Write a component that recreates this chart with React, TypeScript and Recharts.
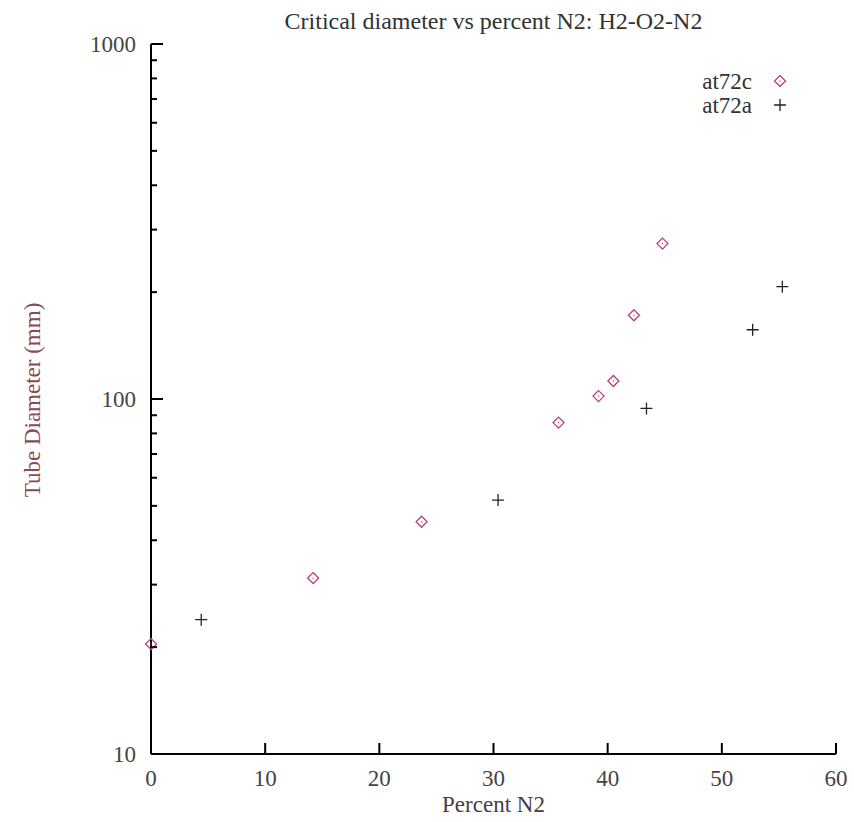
import { ScatterChart, Scatter, XAxis, YAxis, Legend } from 'recharts';

// at72c series (diamonds)
const at72cPercent = [0, 14.2, 23.7, 35.7, 39.2, 40.5, 42.3, 44.8];
const at72cDiameter = [20.4, 31.3, 45.1, 85.8, 101.9, 112.4, 172.2, 274];

// at72a series (crosses)
const at72aPercent = [4.4, 30.4, 43.4, 52.7, 55.3];
const at72aDiameter = [23.9, 51.9, 94.1, 156.7, 207.2];

const xTicks = [0, 10, 20, 30, 40, 50, 60];
const yTicks = [
  10, 20, 30, 40, 50, 60, 70, 80, 90,
  100, 200, 300, 400, 500, 600, 700, 800, 900,
  1000,
];
const yLabelled = [10, 100, 1000];

const at72c = at72cPercent.map((x, i) => ({ x, y: at72cDiameter[i] }));
const at72a = at72aPercent.map((x, i) => ({ x, y: at72aDiameter[i] }));

const W = 854;
const H = 822;
const PLOT_LEFT = 151;
const PLOT_RIGHT = 836;
const PLOT_TOP = 44;
const PLOT_BOTTOM = 754;

const FONT = '"Liberation Serif", "Times New Roman", serif';
const DIAMOND = '#b8407e';
const CROSS = '#222';

const Diamond = ({ cx, cy }: any) => (
  <g>
    <path
      d={`M${cx} ${cy - 5.5}L${cx + 5.5} ${cy}L${cx} ${cy + 5.5}L${cx - 5.5} ${cy}Z`}
      fill="none"
      stroke={DIAMOND}
      strokeWidth={1.3}
    />
    <rect x={cx - 0.6} y={cy - 0.6} width={1.2} height={1.2} fill={DIAMOND} />
  </g>
);

const Cross = ({ cx, cy }: any) => (
  <path
    d={`M${cx - 6} ${cy}H${cx + 6}M${cx} ${cy - 6}V${cy + 6}`}
    stroke={CROSS}
    strokeWidth={1.3}
  />
);

const isMajor = (v: number) => yLabelled.includes(v);

const LeftTick = ({ y, payload }: any) => {
  const major = isMajor(payload.value);
  return (
    <g>
      <line x1={PLOT_LEFT} x2={PLOT_LEFT + (major ? 12 : 6)} y1={y} y2={y} stroke="#000" strokeWidth={2} />
      {major && (
        <text x={PLOT_LEFT - 15} y={y + 8} textAnchor="end" fontFamily={FONT} fontSize={23} fill="#444">
          {payload.value}
        </text>
      )}
    </g>
  );
};

const RightTick = ({ y, payload }: any) => {
  const major = isMajor(payload.value);
  return (
    <line x1={PLOT_RIGHT} x2={PLOT_RIGHT - (major ? 12 : 6)} y1={y} y2={y} stroke="#000" strokeWidth={2} />
  );
};

const BottomTick = ({ x, payload }: any) => (
  <g>
    <line x1={x} x2={x} y1={PLOT_BOTTOM} y2={PLOT_BOTTOM - 11} stroke="#000" strokeWidth={2} />
    <text x={x} y={PLOT_BOTTOM + 32} textAnchor="middle" fontFamily={FONT} fontSize={23} fill="#444">
      {payload.value}
    </text>
  </g>
);

const TopTick = ({ x }: any) => (
  <line x1={x} x2={x} y1={PLOT_TOP} y2={PLOT_TOP + 11} stroke="#000" strokeWidth={2} />
);

const legendItems = [
  { name: 'at72c', Marker: Diamond },
  { name: 'at72a', Marker: Cross },
];

const renderLegend = () => (
  <svg width={140} height={56}>
    {legendItems.map(({ name, Marker }, i) => (
      <g key={name}>
        <text x={92} y={20 + i * 24} textAnchor="end" fontFamily={FONT} fontSize={23} fill="#333">
          {name}
        </text>
        <Marker cx={120} cy={12 + i * 24} />
      </g>
    ))}
  </svg>
);

export default function App() {
  return (
    <div style={{ position: 'absolute', left: 0, top: 0, width: W, height: H, background: '#fff' }}>
      <div
        style={{
          position: 'absolute',
          top: 8,
          left: PLOT_LEFT,
          width: PLOT_RIGHT - PLOT_LEFT,
          textAlign: 'center',
          fontFamily: FONT,
          fontSize: 24,
          color: '#333',
          whiteSpace: 'nowrap',
        }}
      >
        Critical diameter vs percent N2: H2-O2-N2
      </div>
      <ScatterChart
        width={W}
        height={H}
        margin={{ top: PLOT_TOP, right: W - PLOT_RIGHT, bottom: 0, left: 0 }}
      >
        <XAxis
          dataKey="x"
          type="number"
          domain={[0, 60]}
          ticks={xTicks}
          interval={0}
          height={H - PLOT_BOTTOM}
          axisLine={{ stroke: '#000', strokeWidth: 2 }}
          tickLine={false}
          tick={BottomTick}
          label={{
            content: () => (
              <text
                x={(PLOT_LEFT + PLOT_RIGHT) / 2}
                y={812}
                textAnchor="middle"
                fontFamily={FONT}
                fontSize={23}
                fill="#4a3a4a"
              >
                Percent N2
              </text>
            ),
          }}
        />
        <XAxis
          xAxisId="top"
          orientation="top"
          type="number"
          domain={[0, 60]}
          ticks={xTicks}
          interval={0}
          height={0}
          axisLine={{ stroke: '#000', strokeWidth: 2 }}
          tickLine={false}
          tick={TopTick}
        />
        <YAxis
          dataKey="y"
          type="number"
          scale="log"
          domain={[10, 1000]}
          allowDataOverflow
          ticks={yTicks}
          interval={0}
          width={PLOT_LEFT}
          axisLine={{ stroke: '#000', strokeWidth: 2 }}
          tickLine={false}
          tick={LeftTick}
          label={{
            content: () => (
              <text
                x={40}
                y={400}
                transform="rotate(-90 40 400)"
                textAnchor="middle"
                fontFamily={FONT}
                fontSize={23}
                fill="#8a4a56"
              >
                Tube Diameter (mm)
              </text>
            ),
          }}
        />
        <YAxis
          yAxisId="right"
          orientation="right"
          type="number"
          scale="log"
          domain={[10, 1000]}
          allowDataOverflow
          ticks={yTicks}
          interval={0}
          width={0}
          axisLine={{ stroke: '#000', strokeWidth: 2 }}
          tickLine={false}
          tick={RightTick}
        />
        <Legend
          layout="horizontal"
          align="center"
          verticalAlign="middle"
          content={renderLegend}
          wrapperStyle={{ top: 69, left: 660, width: 140, height: 56 }}
        />
        <Scatter name="at72c" data={at72c} shape={Diamond} isAnimationActive={false} />
        <Scatter name="at72a" data={at72a} shape={Cross} isAnimationActive={false} />
      </ScatterChart>
    </div>
  );
}
